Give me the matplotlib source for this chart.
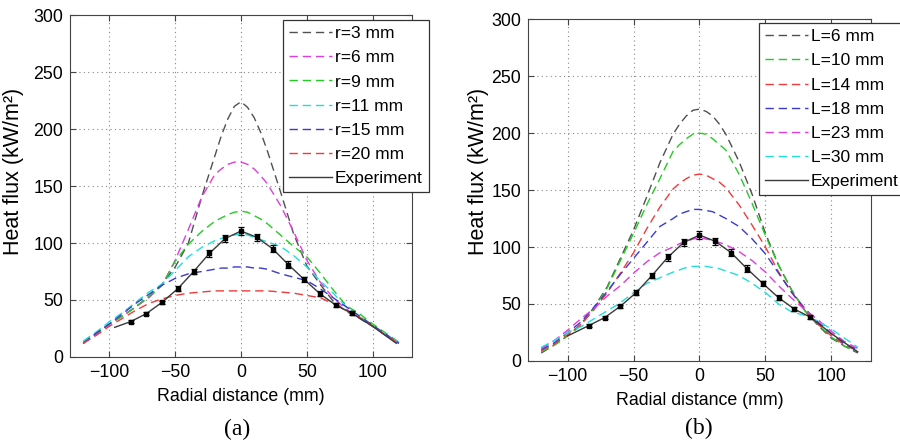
import matplotlib
matplotlib.use("Agg")
import matplotlib.pyplot as plt
import numpy as np

plt.rcParams["font.family"] = ["Liberation Sans", "DejaVu Sans"]

# radial positions of the simulated curves (mm)
x_sim = [-120, -110, -100, -90, -80, -70, -60, -50, -40, -30, -20, -15, -10, -5, 0,
         5, 10, 15, 20, 30, 40, 50, 60, 70, 80, 90, 100, 110, 120]

# panel (a): nozzle radius
labels_a = ["r=3 mm", "r=6 mm", "r=9 mm", "r=11 mm", "r=15 mm", "r=20 mm"]
r3 = [12, 20, 29, 36, 44, 53, 64, 79, 100, 140, 176, 194, 209, 220, 224,
      219, 210, 197, 181, 145, 108, 80, 64, 49, 40, 34, 27, 19, 12]
r6 = [12, 20, 29, 36, 44, 52, 63, 85, 112, 140, 160, 165, 169, 171, 171,
      169, 165, 159, 152, 133, 110, 85, 66, 52, 42, 34, 27, 19, 12]
r9 = [13, 21, 29, 36, 44, 53, 63, 84, 99, 110, 119, 122, 125, 127, 128,
      127, 124, 121, 117, 107, 97, 88, 74, 59, 45, 38, 29, 21, 13]
r11 = [14, 22, 31, 39, 48, 57, 64, 76, 88, 96, 102, 104, 106, 107, 108,
       107, 105, 103, 101, 97, 89, 79, 67, 56, 44, 36, 27, 20, 13]
r15 = [12, 21, 29, 38, 47, 55, 63, 69, 73, 75, 77, 78, 78, 79, 79,
       79, 78, 78, 77, 73, 70, 67, 60, 52, 44, 36, 28, 20, 12]
r20 = [12, 19, 27, 34, 41, 47, 51, 54, 56, 57, 58, 58, 58, 58, 58,
       58, 58, 58, 58, 57, 56, 54, 52, 47, 41, 35, 27, 19, 12]

# panel (b): nozzle-to-plate distance
labels_b = ["L=6 mm", "L=10 mm", "L=14 mm", "L=18 mm", "L=23 mm", "L=30 mm"]
L6 = [7, 14, 22, 32, 47, 65, 90, 115, 144, 174, 199, 208, 215, 220, 221,
      219, 215, 208, 199, 175, 146, 112, 84, 62, 44, 31, 20, 13, 7]
L10 = [8, 14, 22, 31, 46, 64, 88, 112, 137, 160, 184, 190, 195, 199, 200,
       199, 195, 190, 185, 164, 138, 110, 84, 62, 44, 32, 21, 13, 8]
L14 = [9, 15, 23, 32, 45, 60, 77, 95, 116, 135, 151, 156, 160, 163, 164,
       163, 160, 157, 152, 137, 119, 100, 78, 60, 44, 32, 22, 14, 9]
L18 = [10, 16, 25, 34, 47, 61, 76, 90, 104, 118, 125, 129, 131, 133, 133,
       132, 131, 128, 125, 118, 107, 94, 77, 60, 46, 34, 24, 15, 10]
L23 = [11, 18, 27, 37, 46, 57, 66, 77, 87, 95, 100, 103, 105, 107, 108,
       107, 106, 104, 102, 96, 88, 78, 66, 55, 45, 36, 26, 17, 11]
L30 = [12, 18, 25, 30, 37, 44, 51, 60, 68, 73, 78, 80, 82, 83, 83,
       83, 82, 81, 79, 75, 68, 60, 50, 43, 40, 35, 28, 20, 12]

# experiment (shared by both panels)
x_exp = [-84, -72, -60, -48, -36, -24, -12, 0, 12, 24, 36, 48, 60, 72, 84]
q_exp = [31, 38, 48, 60, 75, 91, 104, 110.5, 105, 95, 81, 68, 55.5, 45.5, 38.5]
q_err = [1.5, 1.5, 1.5, 2, 2.5, 3, 3, 3.5, 3, 3, 3, 2.5, 2, 1.5, 1.5]
# ends of the experimental line beyond the measured points
exp_ends_a = ([-96], [26], [100, 118], [27, 12])
exp_ends_b = ([-100], [22], [100, 120], [24, 8])

colors_a = ["#505050", "#e03ce0", "#22cc22", "#22dddd", "#3a3ad0", "#f03a3a"]
colors_b = ["#505050", "#22cc22", "#f03a3a", "#3a3ad0", "#e03ce0", "#22dddd"]

fig = plt.figure(figsize=(9, 4.44), dpi=100)
ax_a = fig.add_axes([0.0778, 0.196, 0.38, 0.770])
ax_b = fig.add_axes([0.5867, 0.187, 0.381, 0.770])


def panel(ax, series, labels, colors, ends, leg_anchor, ylab_xy):
    for ys, lab, c in zip(series, labels, colors):
        ax.plot(x_sim, ys, color=c, lw=1.0, dashes=(6, 3.5), label=lab)
    lx = ends[0] + x_exp + ends[2]
    ly = ends[1] + q_exp + ends[3]
    ax.plot(lx, ly, color="#3a3a3a", lw=1.0, label="Experiment")
    ax.errorbar(x_exp, q_exp, yerr=q_err, fmt="s", ms=3.5, color="black",
                ecolor="black", elinewidth=0.9, capsize=2.2, capthick=0.9)
    ax.set_xlim(-130, 130)
    ax.set_ylim(0, 300)
    ax.set_xticks([-100, -50, 0, 50, 100])
    ax.set_yticks([0, 50, 100, 150, 200, 250, 300])
    ax.grid(True, linestyle=(0, (1, 3)), color="#888888", lw=0.8)
    ax.tick_params(direction="in", top=True, right=True, labelsize=12.8,
                   length=4, pad=5, color="#444444")
    for s in ax.spines.values():
        s.set_color("#444444")
    ax.set_xlabel("Radial distance (mm)", fontsize=12.8, labelpad=5)
    ax.set_ylabel("Heat flux (kW/m²)", fontsize=15.5)
    ax.yaxis.set_label_coords(*ylab_xy)
    leg = ax.legend(loc="upper left", bbox_to_anchor=leg_anchor,
                    bbox_transform=fig.transFigure, fontsize=12.5,
                    handlelength=2.5, handletextpad=0.15, labelspacing=0.52,
                    borderpad=0.35, borderaxespad=0, fancybox=False,
                    framealpha=1, edgecolor="#333333")
    leg.get_frame().set_linewidth(0.9)
    leg.set_clip_on(False)


panel(ax_a, [r3, r6, r9, r11, r15, r20], labels_a, colors_a, exp_ends_a,
      (0.3144, 0.955), (-0.135, 0.544))
panel(ax_b, [L6, L10, L14, L18, L23, L30], labels_b, colors_b, exp_ends_b,
      (0.843, 0.948), (-0.114, 0.553))

fig.text(0.264, 0.032, "(a)", family="Liberation Serif", fontsize=17,
         ha="center", va="center")
fig.text(0.777, 0.036, "(b)", family="Liberation Serif", fontsize=17,
         ha="center", va="center")

fig.savefig("out.png", dpi=100)
